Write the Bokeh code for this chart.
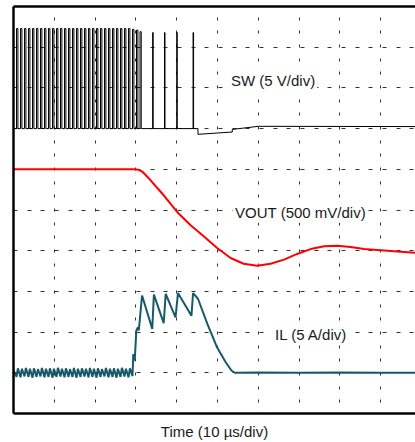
from bokeh.plotting import figure
from bokeh.models import Range1d, LinearAxis, FixedTicker, Label
from bokeh.embed import file_html
from bokeh.resources import INLINE

# ---------------- data (time in µs, 10 µs/div) ----------------
x_end_us = 98.5
grid_x = [10, 20, 30, 40, 50, 60, 70, 80, 90]
grid_y = [1, 2, 3, 4, 5, 6, 7, 8, 9]

# SW node (V), 5 V/div, 0 V at division 7
sw_on = [0.74, 1.72, 2.70, 3.68, 4.66, 5.64, 6.62, 7.60, 8.58, 9.56,
         10.54, 11.52, 12.50, 13.48, 14.46, 15.44, 16.42, 17.40, 18.38, 19.36,
         20.34, 21.32, 22.30, 23.28, 24.26, 25.24, 26.22, 27.20, 28.18, 29.16,
         30.14, 31.00, 34.10, 37.00, 40.00, 44.00]
sw_width = [0.34, 0.34, 0.34, 0.34, 0.34, 0.34, 0.34, 0.34, 0.34, 0.34,
            0.34, 0.34, 0.34, 0.34, 0.34, 0.34, 0.34, 0.34, 0.34, 0.34,
            0.34, 0.34, 0.34, 0.34, 0.34, 0.34, 0.34, 0.34, 0.34, 0.34,
            0.34, 0.30, 0.12, 0.12, 0.12, 0.12]
sw_high = [12.3, 12.3, 12.3, 12.3, 12.3, 12.3, 12.3, 12.3, 12.3, 12.3,
           12.3, 12.3, 12.3, 12.3, 12.3, 12.3, 12.3, 12.3, 12.3, 12.3,
           12.3, 12.3, 12.3, 12.3, 12.3, 12.3, 12.3, 12.3, 12.3, 12.2,
           12.1, 11.9, 11.8, 11.8, 11.8, 11.8]
sw_tail_t = [45.2, 45.2, 53.6, 53.6, 60.0, 98.5]
sw_tail_v = [0.0, -0.7, -0.42, -0.1, 0.28, 0.25]

# VOUT deviation (V), 500 mV/div, initial level at division 6
vout_t = [0.0, 29.5, 30.6, 31.6, 33.6, 36.8, 40.1, 43.4, 46.6, 49.9, 53.2,
          56.4, 59.7, 63.0, 66.3, 69.5, 72.8, 76.1, 79.3, 82.6, 85.9, 90.8,
          94.0, 98.5]
vout_v = [0.0, 0.0, -0.005, -0.03, -0.135, -0.319, -0.524, -0.688, -0.823,
          -0.967, -1.09, -1.16, -1.185, -1.16, -1.11, -1.04, -0.98, -0.946,
          -0.94, -0.955, -0.98, -0.997, -1.01, -1.025]

# IL (A), 5 A/div, 0 A at division 1
il_start = 0.3
il_lo = [-0.5, -0.55, -0.45, -0.5, -0.6, -0.5, -0.45, -0.55, -0.5, -0.6,
         -0.5, -0.45, -0.55, -0.5, -0.5, -0.6, -0.5, -0.45, -0.55, -0.5,
         -0.6, -0.5, -0.45, -0.55, -0.5, -0.6, -0.5, -0.45, -0.55, -0.4]
il_hi = [0.55, 0.5, 0.6, 0.5, 0.55, 0.45, 0.6, 0.5, 0.55, 0.5,
         0.6, 0.5, 0.55, 0.45, 0.6, 0.5, 0.55, 0.5, 0.6, 0.5,
         0.55, 0.45, 0.6, 0.5, 0.55, 0.5, 0.6, 0.5, 0.55]
il_tr_t = [29.35, 29.7, 30.1, 30.5, 30.7, 31.5, 34.0, 34.4, 36.8, 37.3, 39.7,
           40.3, 43.6, 44.0, 45.2, 47.5, 49.9, 52.0, 53.4, 54.2, 60.0, 70.0,
           80.0, 90.0, 98.5]
il_tr_a = [2.3, 1.5, 5.2, 5.6, 5.2, 9.5, 5.4, 9.6, 6.1, 9.7, 6.8,
           9.8, 7.0, 9.8, 9.1, 6.0, 3.1, 1.3, 0.28, 0.0, 0.05, 0.0,
           0.05, 0.0, 0.0]

trace_labels = ["SW (5 V/div)", "VOUT (500 mV/div)", "IL (5 A/div)"]
label_x = [52.8, 53.8, 63.6]
label_y = [8.17, 4.95, 1.94]
x_label = "Time (10 µs/div)"

# ---------------- build traces ----------------
sw_t, sw_v = [0.0], [0.0]
for on, w, hi in zip(sw_on, sw_width, sw_high):
    sw_t += [on, on, on + w, on + w]
    sw_v += [0.0, hi, hi, 0.0]
sw_t += sw_tail_t
sw_v += sw_tail_v

il_t, il_a = [0.0], [il_start]
for k in range(len(il_hi)):
    il_t += [sw_on[k], sw_on[k] + sw_width[k]]
    il_a += [il_lo[k], il_hi[k]]
il_t.append(sw_on[len(il_hi)])
il_a.append(il_lo[len(il_hi)])
il_t += il_tr_t
il_a += il_tr_a

# ---------------- figure ----------------
FONT = "Liberation Sans"
p = figure(width=415, height=442, x_range=Range1d(0, x_end_us),
           y_range=Range1d(0, 10), output_backend="svg",
           toolbar_location=None, min_border_left=13, min_border_right=0,
           min_border_top=6, min_border_bottom=29)
p.outline_line_color = None
p.background_fill_color = "white"
p.border_fill_color = "white"

p.extra_y_ranges = {"sw": Range1d(-35, 15), "vout": Range1d(-3.0, 2.0),
                    "il": Range1d(-5, 45)}

# grid
p.xgrid.ticker = FixedTicker(ticks=grid_x)
p.ygrid.ticker = FixedTicker(ticks=grid_y)
p.xgrid.grid_line_color = "#333333"
p.ygrid.grid_line_color = "#333333"
p.xgrid.grid_line_width = 1
p.ygrid.grid_line_width = 1
p.xgrid.grid_line_dash = "3 11 3 10 3 11"
p.xgrid.grid_line_dash_offset = 3
p.ygrid.grid_line_dash = "4 10 4 9 4 10"
p.ygrid.grid_line_dash_offset = 0


def style_axis(ax):
    ax.ticker = FixedTicker(ticks=[])
    ax.axis_line_width = 2.5
    ax.axis_line_color = "black"
    ax.major_tick_in = 0
    ax.major_tick_out = 0
    ax.minor_tick_in = 0
    ax.minor_tick_out = 0
    ax.major_label_text_font_size = "0px"
    ax.major_label_standoff = 0


for ax in p.xaxis:
    style_axis(ax)
    ax.axis_label = x_label
    ax.axis_label_text_font = FONT
    ax.axis_label_text_font_size = "15px"
    ax.axis_label_text_font_style = "normal"
    ax.axis_label_text_color = "#1a1a1a"
    ax.axis_label_standoff = 9
for ax in p.yaxis:
    style_axis(ax)
top_ax = LinearAxis()
style_axis(top_ax)
p.add_layout(top_ax, "above")

# traces
p.line(sw_t, sw_v, y_range_name="sw", line_color="black", line_width=1)
p.line(vout_t, vout_v, y_range_name="vout", line_color="#ff0000",
       line_width=2)
p.line(il_t, il_a, y_range_name="il", line_color="#17596a", line_width=2)

for txt, lx, ly in zip(trace_labels, label_x, label_y):
    p.add_layout(Label(x=lx, y=ly, text=txt, text_font=FONT,
                       text_font_size="15px", text_color="#1a1a1a",
                       text_baseline="middle",
                       background_fill_color="white", padding=2))

open("out.html", "w").write(file_html(p, INLINE))
